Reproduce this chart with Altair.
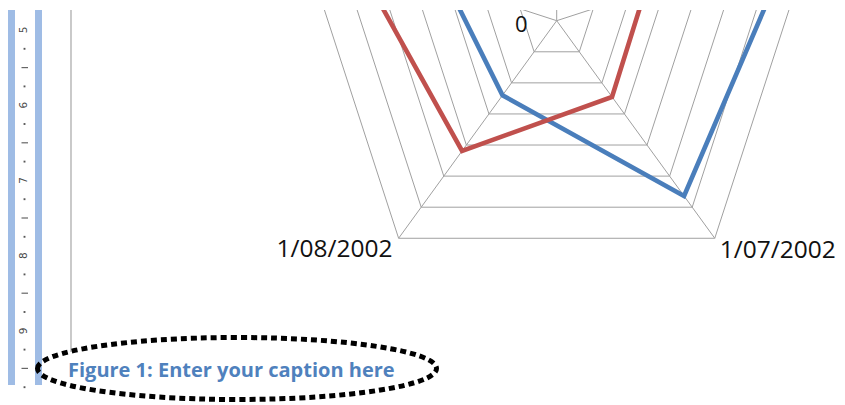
import pandas as pd
import altair as alt

# ---------------- data ----------------
categories = ["1/05/2002", "1/06/2002", "1/07/2002", "1/08/2002", "1/09/2002"]
series_names = ["Series1", "Series2"]
series1 = [45.0, 64.4, 56.4, 24.0, 29.8]
series2 = [30.0, 24.1, 24.5, 41.9, 55.8]
ring_values = [10, 20, 30, 40, 50, 60, 70]
axis_labels = ["0"]
ruler_numbers = ["5", "6", "7", "8", "9"]
caption = "Figure 1: Enter your caption here"
series_colors = ["#4A7EBB", "#C0504D"]

N = len(categories)
RMAX = max(ring_values)

# ---------------- layout ----------------
W, H = 829, 387
CX, CY = 548.7, 10.7      # polar centre (plot px)
K = 3.842                 # px per value unit
xs = alt.Scale(domain=[-CX / K, (W - CX) / K], nice=False, zero=False)
ys = alt.Scale(domain=[-(H - CY) / K, CY / K], nice=False, zero=False)
X_EXPR = f"datum.v * sin(2 * PI * datum.i / {N})"
Y_EXPR = f"datum.v * cos(2 * PI * datum.i / {N})"
GRID = "#A0A0A0"
FONT = "Open Sans"

# series table
srows = []
for name, vals in zip(series_names, [series1, series2]):
    for j in range(N + 1):
        srows.append({"series": name, "i": j % N, "order": j,
                      "v": vals[j % N], "cat": categories[j % N]})
sdf = pd.DataFrame(srows)

# rings table
rrows = []
for r in ring_values:
    for j in range(N + 1):
        rrows.append({"r": r, "i": j % N, "order": j, "v": r})
rdf = pd.DataFrame(rrows)

# spokes / category labels
cdf = pd.DataFrame({"i": list(range(N)), "cat": categories, "v": [RMAX] * N})

def pxy(ch):
    return ch.transform_calculate(px=X_EXPR, py=Y_EXPR)

rings = pxy(alt.Chart(rdf)).mark_line(color=GRID, strokeWidth=1, clip=True).encode(
    x=alt.X("px:Q", scale=xs, axis=None),
    y=alt.Y("py:Q", scale=ys, axis=None),
    detail="r:N", order="order:Q")

spokes = pxy(alt.Chart(cdf)).transform_calculate(x0="0", y0="0").mark_rule(
    color=GRID, strokeWidth=1, clip=True).encode(
    x=alt.X("x0:Q", scale=xs, axis=None), x2="px:Q",
    y=alt.Y("y0:Q", scale=ys, axis=None), y2="py:Q")

lines = pxy(alt.Chart(sdf)).mark_line(strokeWidth=4.6, clip=True, strokeJoin="miter").encode(
    x=alt.X("px:Q", scale=xs, axis=None),
    y=alt.Y("py:Q", scale=ys, axis=None),
    color=alt.Color("series:N", scale=alt.Scale(domain=series_names, range=series_colors), legend=None),
    detail="series:N", order="order:Q")

# category labels: only those whose vertex lies inside the visible frame
VISIBLE = f"datum.py < {-(30 / K):.4f}"

def cat_labels(align, dx, dy, side):
    return pxy(alt.Chart(cdf)).transform_filter(VISIBLE).transform_filter(
        f"datum.px {side} 0").mark_text(
        font=FONT, fontSize=24.5, color="#111111", align=align, dx=dx, dy=dy,
        baseline="alphabetic", clip=True).encode(
        x=alt.X("px:Q", scale=xs, axis=None),
        y=alt.Y("py:Q", scale=ys, axis=None), text="cat:N")

lab_left = cat_labels("right", -6, 18.5, "<")
lab_right = cat_labels("left", 5, 19.5, ">")

zero_df = pd.DataFrame({"i": [0], "v": [0], "t": axis_labels})
zero_lab = pxy(alt.Chart(zero_df)).mark_text(
    font=FONT, fontSize=22, color="#111111", align="right", dx=-29, dy=11,
    baseline="alphabetic").encode(
    x=alt.X("px:Q", scale=xs, axis=None),
    y=alt.Y("py:Q", scale=ys, axis=None), text="t:N")

# ---------------- page decorations (pixel positions) ----------------
one = pd.DataFrame({"a": [0]})
RULER_BLUE = "#9FBCE5"
ruler_l = alt.Chart(one).mark_rect(color=RULER_BLUE).encode(
    x=alt.value(0), x2=alt.value(7), y=alt.value(0), y2=alt.value(375))
ruler_r = alt.Chart(one).mark_rect(color=RULER_BLUE).encode(
    x=alt.value(27), x2=alt.value(34), y=alt.value(0), y2=alt.value(375))

R0, RSTEP = 20.0, 18.8
num_df = pd.DataFrame({"t": ruler_numbers,
                       "y": [R0 + 4 * RSTEP * k for k in range(len(ruler_numbers))]})
ruler_nums = alt.Chart(num_df).mark_text(
    font="DejaVu Sans", fontSize=10.5, color="#4A4A4A", angle=270,
    align="center", baseline="middle").encode(
    x=alt.value(15.5), y=alt.Y("y:Q", scale=None, axis=None), text="t:N")

dots_y, dash_y = [], []
for k in range(len(ruler_numbers)):
    base = R0 + 4 * RSTEP * k
    dots_y += [base + RSTEP, base + 3 * RSTEP]
    dash_y += [base + 2 * RSTEP]
dot_df = pd.DataFrame({"y": dots_y})
dash_df = pd.DataFrame({"y": dash_y})
ruler_dots = alt.Chart(dot_df).mark_square(color="#555555", size=3.5, opacity=1).encode(
    x=alt.value(16.5), y=alt.Y("y:Q", scale=None, axis=None))
ruler_dash = alt.Chart(dash_df).mark_rule(color="#666666", strokeWidth=1.2).encode(
    x=alt.value(13.5), x2=alt.value(20), y=alt.Y("y:Q", scale=None, axis=None))

margin_line = alt.Chart(one).mark_rule(color="#A6A6A6", strokeWidth=1.2).encode(
    x=alt.value(63), y=alt.value(0), y2=alt.value(342))

cap = alt.Chart(pd.DataFrame({"t": [caption]})).mark_text(
    font=FONT, fontSize=20, fontWeight="bold", color="#4F81BD",
    align="left", baseline="alphabetic").encode(
    x=alt.value(60), y=alt.value(366.7), text="t:N")

RX = 199.5
b = 31.0 / RX
kk = 0.5523
ell_path = (f"M -1 0 C -1 {-b*kk:.4f} {-kk:.4f} {-b:.4f} 0 {-b:.4f} "
            f"C {kk:.4f} {-b:.4f} 1 {-b*kk:.4f} 1 0 "
            f"C 1 {b*kk:.4f} {kk:.4f} {b:.4f} 0 {b:.4f} "
            f"C {-kk:.4f} {b:.4f} -1 {b*kk:.4f} -1 0 Z")
ellipse = alt.Chart(one).mark_point(
    shape=ell_path, filled=False, stroke="#000000", strokeWidth=5,
    strokeDash=[6, 4], strokeCap="butt", opacity=1).encode(
    x=alt.value(229), y=alt.value(358.5), size=alt.value((2 * RX) ** 2))

chart = alt.layer(
    rings, spokes, lines, lab_left, lab_right, zero_lab,
    ruler_l, ruler_r, ruler_nums, ruler_dots, ruler_dash, margin_line, cap, ellipse
).properties(
    width=W, height=H,
    padding={"left": 0, "top": 2, "right": 0, "bottom": 8},
    autosize=alt.AutoSizeParams(type="none"),
    background="white",
).configure_view(strokeWidth=0)

chart.save("out.html", embed_options={"renderer": "svg", "actions": False})
